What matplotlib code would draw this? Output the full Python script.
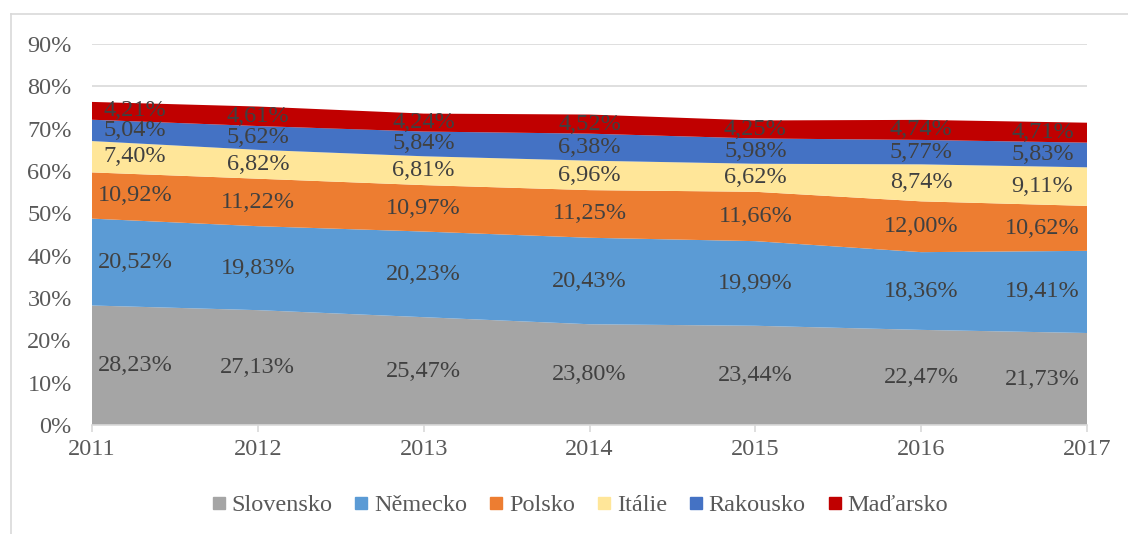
import matplotlib
matplotlib.use("Agg")
import matplotlib.pyplot as plt
import numpy as np
from matplotlib.lines import Line2D

years = [2011, 2012, 2013, 2014, 2015, 2016, 2017]
series_names = ["Slovensko", "Německo", "Polsko", "Itálie", "Rakousko", "Maďarsko"]
slovensko = [28.23, 27.13, 25.47, 23.80, 23.44, 22.47, 21.73]
nemecko = [20.52, 19.83, 20.23, 20.43, 19.99, 18.36, 19.41]
polsko = [10.92, 11.22, 10.97, 11.25, 11.66, 12.00, 10.62]
italie = [7.40, 6.82, 6.81, 6.96, 6.62, 8.74, 9.11]
rakousko = [5.04, 5.62, 5.84, 6.38, 5.98, 5.77, 5.83]
madarsko = [4.21, 4.61, 4.24, 4.52, 4.25, 4.74, 4.71]
colors = ["#A5A5A5", "#5B9BD5", "#ED7D31", "#FFE699", "#4472C4", "#C00000"]

plt.rcParams['font.family'] = ['Liberation Serif', 'DejaVu Serif']
FS = 17.5

W, H = 1128, 534
fig = plt.figure(figsize=(W / 100, H / 100), dpi=100)
ax = fig.add_axes([92 / W, 1 - 425 / H, (1087 - 92) / W, (425 - 44) / H])

data = np.array([slovensko, nemecko, polsko, italie, rakousko, madarsko])
x = np.arange(len(years))
ax.stackplot(x, data, colors=colors, labels=series_names, zorder=2)

ax.set_xlim(0, len(years) - 1)
ax.set_ylim(0, 90)
ax.set_yticks(np.arange(0, 91, 10))
ax.set_yticklabels([f"{v}%" for v in range(0, 91, 10)])
ax.set_xticks(x)
ax.set_xticklabels([str(y) for y in years])
ax.grid(axis='y', color="#D9D9D9", linewidth=1.2, zorder=0)
ax.set_axisbelow(True)
for s in ["top", "right", "left"]:
    ax.spines[s].set_visible(False)
ax.spines["bottom"].set_color("#D9D9D9")
ax.spines["bottom"].set_linewidth(1.2)
ax.tick_params(axis='y', length=0, pad=14.5, labelsize=FS, labelcolor="#595959")
ax.tick_params(axis='x', length=5, color="#D9D9D9", width=1.2, pad=5,
               labelsize=FS, labelcolor="#595959")

cum = np.cumsum(data, axis=0)
for i in range(data.shape[0]):
    for j in range(data.shape[1]):
        mid = cum[i, j] - data[i, j] / 2
        dx = 0
        if j == 0:
            dx = 31
        elif j == len(years) - 1:
            dx = -32
        txt = f"{data[i, j]:.2f}%".replace(".", ",")
        ax.annotate(txt, (x[j], mid), xytext=(dx, 0), textcoords="offset points",
                    ha="center", va="center", fontsize=FS, color="#404040", zorder=5)

handles = [Line2D([], [], marker='s', linestyle='none', markersize=9,
                  markerfacecolor=c, markeredgecolor=c) for c in colors]
fig.legend(handles, series_names, loc="center", bbox_to_anchor=(580 / W, 1 - 505 / H),
           ncol=6, frameon=False, fontsize=FS, handlelength=0.55, handletextpad=0.25,
           columnspacing=0.92, labelcolor="#595959")

fig.add_artist(Line2D([11 / W, 1], [1 - 14 / H, 1 - 14 / H], color="#D9D9D9", linewidth=1.2))
fig.add_artist(Line2D([11 / W, 11 / W], [0, 1 - 14 / H], color="#D9D9D9", linewidth=1.2))

fig.savefig("out.png", dpi=100)
